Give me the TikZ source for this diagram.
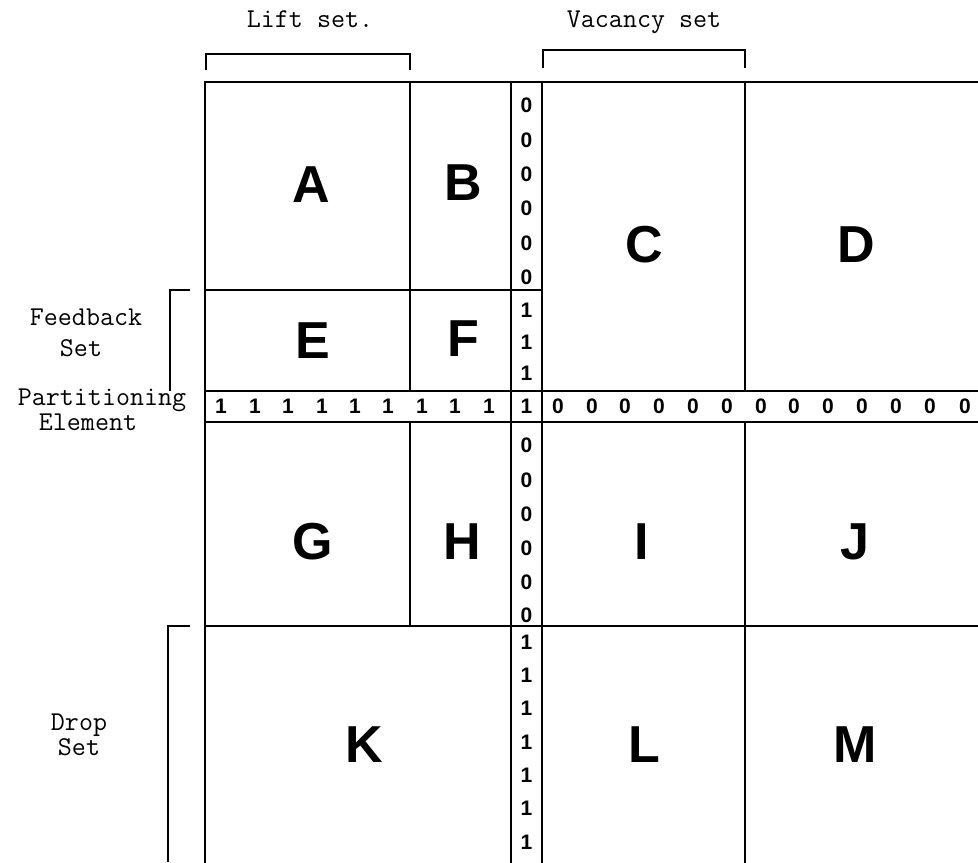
\documentclass[tikz,border=0pt]{standalone}
\usepackage{fontspec}
\setsansfont{Liberation Sans}
\begin{document}
\begin{tikzpicture}[x=0.5pt,y=-0.5pt,
  gridline/.style={line width=0.9pt, line cap=rect},
  brk/.style={line width=0.9pt},
  lbl/.style={inner sep=0pt, font=\ttfamily\fontsize{13.6}{16}\selectfont, anchor=base},
  big/.style={inner sep=0pt, font=\sffamily\bfseries\fontsize{26}{30}\selectfont},
  dig/.style={inner sep=0pt, font=\sffamily\bfseries\fontsize{10.5}{12}\selectfont}]
\useasboundingbox (0,0) rectangle (978,862);

% grid
\draw[gridline] (205,82) -- (978,82);
\draw[gridline] (205,82) -- (205,862);
\draw[gridline] (410,82) -- (410,391);
\draw[gridline] (410,422) -- (410,626);
\draw[gridline] (511,82) -- (511,862);
\draw[gridline] (542,82) -- (542,862);
\draw[gridline] (745,82) -- (745,391);
\draw[gridline] (745,422) -- (745,862);
\draw[gridline] (205,290) -- (542,290);
\draw[gridline] (205,391) -- (978,391);
\draw[gridline] (205,422) -- (978,422);
\draw[gridline] (205,626) -- (978,626);

% brackets
\draw[brk] (206,70) -- (206,54) -- (410,54) -- (410,70);
\draw[brk] (543,68) -- (543,50) -- (745,50) -- (745,68);
\draw[brk] (190,290) -- (170,290) -- (170,391);
\draw[brk] (190,626) -- (168,626) -- (168,862);

% labels
\node[lbl] (lift) at (310,27) {Lift set.};
\node[lbl] (vac) at (644,27) {Vacancy set};
\node[lbl] (fb1) at (86,325) {Feedback};
\node[lbl] (fb2) at (81,356) {Set};
\node[lbl] (pe1) at (102,405) {Partitioning};
\node[lbl] (pe2) at (88,430) {Element};
\node[lbl] (ds1) at (79,730) {Drop};
\node[lbl] (ds2) at (79,755) {Set};

% big letters
\node[big] (A) at (311,185) {A};
\node[big] (B) at (463,183) {B};
\node[big] (C) at (644,245) {C};
\node[big] (D) at (856,245) {D};
\node[big] (E) at (313,341) {E};
\node[big] (F) at (463,339) {F};
\node[big] (G) at (313,542) {G};
\node[big] (H) at (462,542) {H};
\node[big] (I) at (642,542) {I};
\node[big] (J) at (855,542) {J};
\node[big] (K) at (364,745) {K};
\node[big] (L) at (644,745) {L};
\node[big] (M) at (855,745) {M};

% vertical strip digits
\foreach \y [count=\i] in {105,140,174,208,243,277}
  \node[dig] (va\i) at (526.5,\y) {0};
\foreach \y [count=\i] in {310,342,373}
  \node[dig] (vb\i) at (526.5,\y) {1};
\foreach \y [count=\i] in {445,480,514,548,582,615}
  \node[dig] (vc\i) at (526.5,\y) {0};
\foreach \y [count=\i] in {642,675,708,742,775,808,842}
  \node[dig] (vd\i) at (526.5,\y) {1};

% partitioning row digits
\foreach \x [count=\i] in {221,255,288,322,355,388,422,455,489}
  \node[dig] (pa\i) at (\x,406) {1};
\node[dig] (pc) at (526.5,406) {1};
\foreach \x [count=\i] in {558,592,625,659,693,727,761,794,828,862,896,930,965}
  \node[dig] (pz\i) at (\x,406) {0};
\end{tikzpicture}
\end{document}
